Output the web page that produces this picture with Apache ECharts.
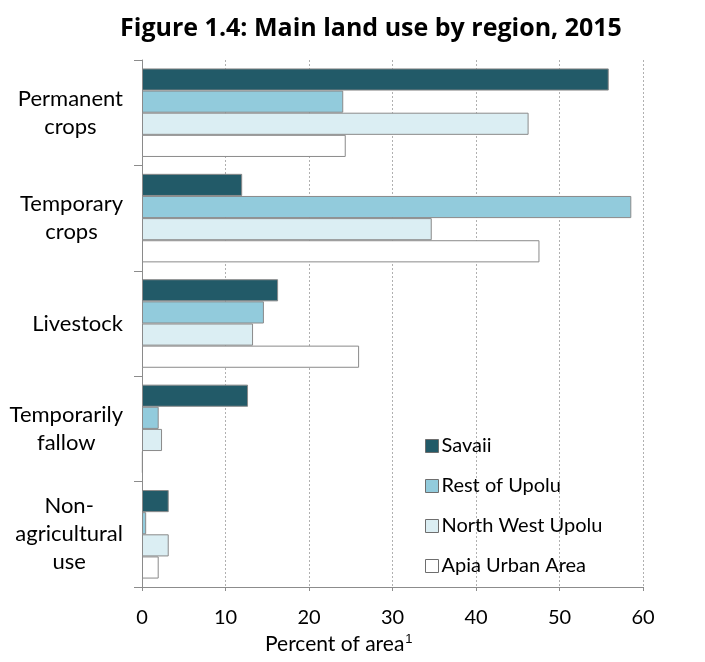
<!DOCTYPE html>
<html>
<head>
<meta charset="utf-8">
<script src="https://cdn.jsdelivr.net/npm/echarts@6/dist/echarts.min.js"></script>
<style>
    html, body { margin: 0; padding: 0; background: #fff; }
    #chart { width: 705px; height: 662px; }
</style>
</head>
<body>
<div id="chart"></div>
<script>
var categories = ["Permanent\ncrops", "Temporary\ncrops", "Livestock", "Temporarily\nfallow", "Non-\nagricultural\nuse"];
var regions = ["Savaii", "Rest of Upolu", "North West Upolu", "Apia Urban Area"];
var savaii = [55.9, 12.0, 16.3, 12.7, 3.2];
var restOfUpolu = [24.1, 58.6, 14.6, 2.0, 0.5];
var northWestUpolu = [46.3, 34.7, 13.3, 2.4, 3.2];
var apiaUrban = [24.4, 47.6, 26.0, 0.1, 2.0];
var xTicks = [0, 10, 20, 30, 40, 50, 60];

var colors = ["#225a68", "#92cbdc", "#dbeef3", "#ffffff"];
var fontName = "Lato";

function buildSeries() {
    var values = [savaii, restOfUpolu, northWestUpolu, apiaUrban];
    var list = new Array();
    for (var i = 0; i < regions.length; i++) {
        list.push({
            name: regions[i],
            type: "bar",
            data: values[i],
            barGap: "0%",
            barCategoryGap: "16%",
            itemStyle: {color: colors[i], borderColor: "#8a8a8a", borderWidth: 1},
            emphasis: {disabled: true}
        });
    }
    return list;
}

var chart = echarts.init(document.getElementById("chart"));
var option = {
    animation: false,
    title: {
        text: "Figure 1.4: Main land use by region, 2015",
        left: 366,
        textAlign: "center",
        top: 11,
        textStyle: {fontFamily: "Open Sans", fontWeight: "bold", fontSize: 25, color: "#000"}
    },
    grid: {left: 142, right: 62, top: 60, bottom: 75, containLabel: false},
    legend: {
        orient: "vertical",
        left: 420,
        top: 431,
        icon: "rect",
        itemWidth: 13,
        itemHeight: 13,
        itemGap: 20,
        data: regions,
        textStyle: {fontFamily: fontName, fontSize: 20, color: "#000", padding: [0, 0, 0, -2]},
        itemStyle: {borderColor: "#6e6e6e", borderWidth: 1}
    },
    xAxis: {
        type: "value",
        min: xTicks[0],
        max: xTicks[xTicks.length - 1],
        interval: 10,
        axisLine: {show: true, lineStyle: {color: "#8c8c8c"}},
        axisTick: {show: true, length: 4, lineStyle: {color: "#8c8c8c"}},
        axisLabel: {fontFamily: fontName, fontSize: 20, color: "#000", margin: 21},
        splitLine: {show: true, lineStyle: {color: "#b0b0b0", type: [2, 2]}}
    },
    yAxis: {
        type: "category",
        data: categories,
        inverse: true,
        axisLine: {lineStyle: {color: "#8c8c8c"}},
        axisTick: {show: true, length: 8, lineStyle: {color: "#8c8c8c"}},
        axisLabel: {
            margin: 19,
            fontFamily: fontName,
            fontSize: 22,
            color: "#000",
            lineHeight: 28,
            formatter: function (value) {
                var lines = value.split("\n");
                var out = new Array();
                for (var i = 0; i < lines.length; i++) {
                    out.push("{c|" + lines[i] + "}");
                }
                return out.join("\n");
            },
            rich: {c: {align: "center", fontFamily: fontName, fontSize: 22, lineHeight: 28, color: "#000"}}
        }
    },
    graphic: [{
        type: "text",
        left: 265,
        top: 633,
        style: {
            text: "Percent of area{s|1}",
            fontFamily: fontName,
            fontSize: 21,
            fill: "#000",
            rich: {s: {fontSize: 13, verticalAlign: "top", padding: [0, 0, 9, 1]}}
        }
    }],
    series: buildSeries()
};
chart.setOption(option);
</script>
</body>
</html>
